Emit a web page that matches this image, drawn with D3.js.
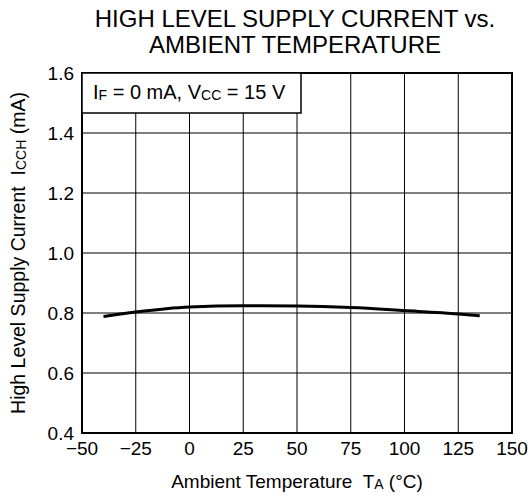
<!DOCTYPE html>
<html>
<head>
<meta charset="utf-8">
<script src="https://cdn.jsdelivr.net/npm/d3@7"></script>
<style>
  body { margin: 0; background: #fff; }
  svg { font-family: "Liberation Sans", Arial, sans-serif; }
  text { white-space: pre; }
</style>
</head>
<body>
<div id="chart"></div>
<script>
// curve
const temps = [-40, -25, 0, 25, 50, 75, 100, 125, 135]
const current = [0.788, 0.803, 0.82, 0.824, 0.823, 0.818, 0.808, 0.797, 0.791]

const xTicks = [-50, -25, 0, 25, 50, 75, 100, 125, 150]
const yTicks = [0.4, 0.6, 0.8, 1.0, 1.2, 1.4, 1.6]

const width = 532
const height = 500
const margin = {top: 73, right: 20, bottom: 67, left: 82}

const svg = d3.select("#chart")
    .append("svg")
    .attr("width", width)
    .attr("height", height)

const x = d3.scaleLinear().domain([-50, 150]).range([margin.left, width - margin.right])
const y = d3.scaleLinear().domain([0.4, 1.6]).range([height - margin.bottom, margin.top])

const fmtX = d => d < 0 ? "\u2212" + Math.abs(d) : d

// grid
svg.append("g")
    .selectAll("line")
    .data(xTicks.slice(1, -1))
    .join("line")
    .attr("x1", d => x(d)).attr("x2", d => x(d))
    .attr("y1", y(0.4)).attr("y2", y(1.6))
    .attr("stroke", "#000")
    .attr("stroke-width", 1)

svg.append("g")
    .selectAll("line")
    .data(yTicks.slice(1, -1))
    .join("line")
    .attr("y1", d => y(d)).attr("y2", d => y(d))
    .attr("x1", x(-50)).attr("x2", x(150))
    .attr("stroke", "#000")
    .attr("stroke-width", 1)

// frame
svg.append("rect")
    .attr("x", x(-50)).attr("y", y(1.6))
    .attr("width", x(150) - x(-50))
    .attr("height", y(0.4) - y(1.6))
    .attr("fill", "none")
    .attr("stroke", "#000")
    .attr("stroke-width", 2)

// tick labels
svg.append("g")
    .selectAll("text")
    .data(xTicks)
    .join("text")
    .attr("x", d => x(d))
    .attr("y", y(0.4) + 22)
    .attr("text-anchor", "middle")
    .attr("font-size", 19)
    .text(fmtX)

svg.append("g")
    .selectAll("text")
    .data(yTicks)
    .join("text")
    .attr("x", x(-50) - 8)
    .attr("y", d => y(d) + 7)
    .attr("text-anchor", "end")
    .attr("font-size", 19)
    .text(d => d.toFixed(1))

// curve
const line = d3.line()
    .x((d, i) => x(temps[i]))
    .y(d => y(d))
    .curve(d3.curveMonotoneX)

svg.append("path")
    .datum(current)
    .attr("d", line)
    .attr("fill", "none")
    .attr("stroke", "#000")
    .attr("stroke-width", 3)

// condition box
svg.append("rect")
    .attr("x", x(-50)).attr("y", y(1.6))
    .attr("width", 219).attr("height", 40)
    .attr("fill", "#fff")
    .attr("stroke", "#000")
    .attr("stroke-width", 1.5)

const cond = svg.append("text")
    .attr("x", x(-50) + 11)
    .attr("y", y(1.6) + 26)
    .attr("font-size", 20)
cond.append("tspan").text("I")
cond.append("tspan").attr("font-size", 14).attr("dy", 1).text("F")
cond.append("tspan").attr("dy", -1).text(" = 0 mA, V")
cond.append("tspan").attr("font-size", 14).attr("dy", 1).text("CC")
cond.append("tspan").attr("dy", -1).text(" = 15 V")

// title
const title = svg.append("text")
    .attr("text-anchor", "middle")
    .attr("font-size", 24)
title.append("tspan").attr("x", 295).attr("y", 27).text("HIGH LEVEL SUPPLY CURRENT vs.")
title.append("tspan").attr("x", 295).attr("y", 53).text("AMBIENT TEMPERATURE")

// x label
const xl = svg.append("text")
    .attr("x", 297)
    .attr("y", 488)
    .attr("text-anchor", "middle")
    .attr("font-size", 19)
xl.append("tspan").text("Ambient Temperature  T")
xl.append("tspan").attr("font-size", 14).attr("dy", 1).text("A")
xl.append("tspan").attr("dy", -1).text(" (\u00B0C)")

// y label
const yl = svg.append("text")
    .attr("transform", `translate(25, ${(y(0.4) + y(1.6)) / 2}) rotate(-90)`)
    .attr("text-anchor", "middle")
    .attr("font-size", 19.5)
yl.append("tspan").text("High Level Supply Current  I")
yl.append("tspan").attr("font-size", 14).attr("dy", 1).text("CCH")
yl.append("tspan").attr("dy", -1).text(" (mA)")
</script>
</body>
</html>
